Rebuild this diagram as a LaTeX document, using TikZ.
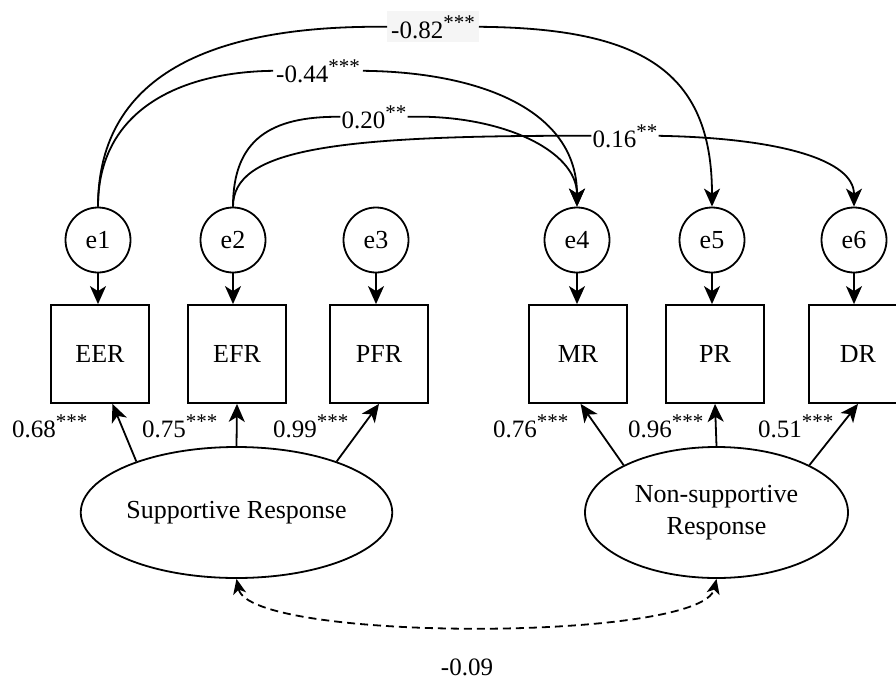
\documentclass[tikz,border=0pt]{standalone}
\usepackage{fontspec}
\setmainfont{Liberation Serif}
\usetikzlibrary{arrows.meta,shapes.geometric}
\newcommand{\sigstar}[1]{\raisebox{9pt}{\fontsize{21}{21}\selectfont #1}}
\begin{document}
\begin{tikzpicture}[x=1pt,y=-1pt,
  every node/.style={font=\fontsize{26}{32}\selectfont, inner sep=0pt},
  err/.style={circle, draw, line width=1.8pt, minimum size=65pt},
  obs/.style={rectangle, draw, line width=1.8pt, minimum width=98pt, minimum height=98pt},
  lat/.style={ellipse, draw, line width=1.8pt, minimum width=263pt, minimum height=131pt, align=center},
  coef/.style={font=\fontsize{25}{30}\selectfont, inner sep=2pt, fill=white, anchor=base},
  load/.style={font=\fontsize{25}{30}\selectfont, anchor=base west},
  conn/.style={line width=1.8pt},
  tip/.style={-{Stealth[length=18pt,width=16pt,inset=5pt]}},
  arr/.style={conn, tip},
  cov/.style={conn, dash pattern=on 8pt off 5pt, {Stealth[length=15pt,width=13pt,inset=4pt]}-{Stealth[length=15pt,width=13pt,inset=4pt]}},
]
\clip (0,0) rectangle (896,680);
\fill[white] (0,0) rectangle (896,680);

% error terms
\node[err] (e1) at (98,240) {e1};
\node[err] (e2) at (233,240) {e2};
\node[err] (e3) at (376,240) {e3};
\node[err] (e4) at (577,240) {e4};
\node[err] (e5) at (712,240) {e5};
\node[err] (e6) at (854,240) {e6};

% observed variables
\node[obs] (EER) at (100,354) {EER};
\node[obs] (EFR) at (237,354) {EFR};
\node[obs] (PFR) at (379,354) {PFR};
\node[obs] (MR) at (578,354) {MR};
\node[obs] (PR) at (715,354) {PR};
\node[obs] (DR) at (858,354) {DR};

% latent variables
\node[lat] (S) at (236.5,512.5) {Supportive Response};
\node[lat] (N) at (716.5,512.5) {Non-supportive\\Response};

% error arrows
\foreach \e/\o in {e1/EER,e2/EFR,e3/PFR,e4/MR,e5/PR,e6/DR}
  \draw[arr] (\e.south) -- (\e.south |- \o.north);

% loadings
\draw[arr] (S.153) -- (EER.-76);
\draw[arr] (S.north) -- (EFR.south);
\draw[arr] (S.27) -- (PFR.south);
\draw[arr] (N.153) -- (MR.-87);
\draw[arr] (N.north) -- (PR.south);
\draw[arr] (N.27) -- (DR.south);

\node[load] (l1) at (12,437) {0.68\sigstar{***}};
\node[load] (l2) at (142,437) {0.75\sigstar{***}};
\node[load] (l3) at (273,437) {0.99\sigstar{***}};
\node[load] (l4) at (493,437) {0.76\sigstar{***}};
\node[load] (l5) at (628,437) {0.96\sigstar{***}};
\node[load] (l6) at (758,437) {0.51\sigstar{***}};

% error covariances
\node[coef, fill=black!4, inner sep=4pt] (c82) at (433,38) {-0.82\sigstar{***}};
\node[coef, inner sep=3pt] (c44) at (318,82) {-0.44\sigstar{***}};
\node[coef, inner sep=1pt] (c20) at (374,128) {0.20\sigstar{**}};
\node[coef, inner sep=1pt] (c16) at (625,147) {0.16\sigstar{**}};

\draw[conn] (e1.north) .. controls (98,70) and (220,25) .. (c82.west);
\draw[arr] (c82.east) .. controls (640,28) and (712,70) .. (e5.north);
\draw[conn] (e1.north) .. controls (98,110) and (180,72) .. (c44.west);
\draw[arr] (c44.east) .. controls (480,72) and (577,110) .. (e4.north);
\draw[conn] (e2.north) .. controls (233,140) and (270,116) .. (c20.west);
\draw[arr] (c20.east) .. controls (500,114) and (577,150) .. (e4.north);
\draw[conn] (e2.north) .. controls (233,150) and (330,135) .. (c16.west);
\draw[arr] (c16.east) .. controls (780,138) and (854,160) .. (e6.north);

% latent covariance
\draw[cov] (S.south) .. controls (250,642) and (702,642) .. (N.south);
\node[font=\fontsize{25}{30}\selectfont, anchor=base] (c09) at (467,675) {-0.09};
\end{tikzpicture}
\end{document}
